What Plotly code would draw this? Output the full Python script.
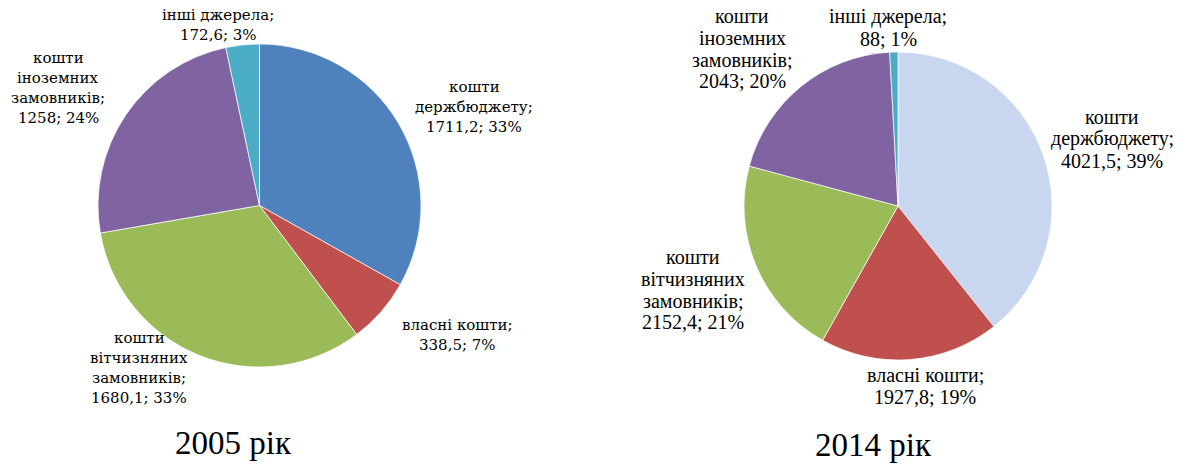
import plotly.graph_objects as go

# ---------------- data ----------------
categories = ["кошти держбюджету", "власні кошти", "кошти вітчизняних замовників",
              "кошти іноземних замовників", "інші джерела"]
label_lines = [["кошти", "держбюджету;"], ["власні кошти;"],
               ["кошти", "вітчизняних", "замовників;"],
               ["кошти", "іноземних", "замовників;"], ["інші джерела;"]]
values_2005 = [1711.2, 338.5, 1680.1, 1258, 172.6]
values_2014 = [4021.5, 1927.8, 2152.4, 2043, 88]
titles = ["2005 рік", "2014 рік"]

colors_2005 = ["#4f81bd", "#c0504d", "#9bbb59", "#8064a2", "#4bacc6"]
colors_2014 = ["#c9d6ef", "#c0504d", "#9bbb59", "#8064a2", "#4bacc6"]

W, H = 1186, 466


def fmt(v):
    if float(v).is_integer():
        return str(int(v))
    return ("%.1f" % v).replace(".", ",")


def px_dom(x0, x1, y0, y1):
    return dict(x=[x0 / W, x1 / W], y=[1 - y1 / H, 1 - y0 / H])


fig = go.Figure()
fig.add_trace(go.Pie(labels=categories, values=values_2005, sort=False,
                     direction="clockwise", rotation=0, textinfo="none",
                     marker=dict(colors=colors_2005, line=dict(color="white", width=0.7)),
                     domain=px_dom(98, 421, 44, 367), showlegend=False))
fig.add_trace(go.Pie(labels=categories, values=values_2014, sort=False,
                     direction="clockwise", rotation=0, textinfo="none",
                     marker=dict(colors=colors_2014, line=dict(color="white", width=0.7)),
                     domain=px_dom(744, 1052, 51, 361), showlegend=False))

# label placement (center x px, first line y px)
pos_2005 = [(474, 87), (457, 325), (139, 338), (58, 58), (218, 15)]
pos_2014 = [(1112, 117), (925, 375), (693, 257), (742, 16), (888, 17)]

annotations = []


def add_labels(values, positions, family, size, spacing):
    total = sum(values)
    for i, v in enumerate(values):
        pct = round(100 * v / total)
        lines = label_lines[i] + ["%s; %d%%" % (fmt(v), pct)]
        cx, cy = positions[i]
        for j, t in enumerate(lines):
            annotations.append(dict(x=cx / W, y=1 - (cy + j * spacing) / H,
                                    xref="paper", yref="paper", text=t, showarrow=False,
                                    xanchor="center", yanchor="middle",
                                    font=dict(family=family, size=size, color="black")))


add_labels(values_2005, pos_2005, "DejaVu Serif", 15, 19.9)
add_labels(values_2014, pos_2014, "Liberation Serif", 20, 21.8)

for t, (cx, cy) in zip(titles, [(233, 443), (873, 445)]):
    annotations.append(dict(x=cx / W, y=1 - cy / H, xref="paper", yref="paper", text=t,
                            showarrow=False, xanchor="center", yanchor="middle",
                            font=dict(family="Liberation Serif", size=33, color="black")))

fig.update_layout(width=W, height=H, margin=dict(l=0, r=0, t=0, b=0),
                  paper_bgcolor="white", plot_bgcolor="white",
                  annotations=annotations, showlegend=False)

fig.write_html("out.html", config={"displayModeBar": False},
               post_script="document.body.style.margin='0';document.body.style.overflow='hidden';")
